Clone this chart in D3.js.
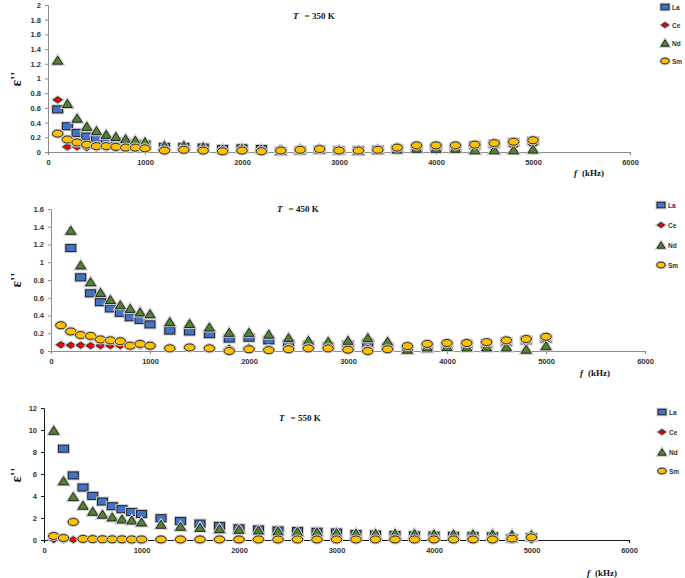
<!DOCTYPE html>
<html>
<head>
<meta charset="utf-8">
<script src="https://cdn.jsdelivr.net/npm/d3@7"></script>
<style>
html,body{margin:0;padding:0;background:#fff;}
svg{display:block;}
</style>
</head>
<body>
<svg id="chart" width="685" height="578"></svg>
<script>
// ---------- DATA ----------
const freq = [100,200,300,400,500,600,700,800,900,1000,
  1200,1400,1600,1800,2000,2200,2400,2600,2800,3000,
  3200,3400,3600,3800,4000,4200,4400,4600,4800,5000];
const seriesNames = ["La","Ce","Nd","Sm"];
const xTicks = [0,1000,2000,3000,4000,5000,6000];

// T = 350 K
const La350 = [0.58,0.35,0.26,0.21,0.18,0.16,0.14,0.12,0.11,0.10, 0.07,0.07,0.06,0.04,0.05,0.04,0.01,0.02,0.03,0.02, 0.02,0.03,0.04,0.06,0.06,0.06,0.09,0.11,0.13,0.15];
const Ce350 = [0.71,0.07,0.07,0.06,0.06,0.06,0.05,0.05,0.05,0.05, 0.04,0.05,0.04,0.03,0.04,0.03,0.05,0.05,0.05,0.04, 0.03,0.05,0.07,0.06,0.06,0.06,0.06,0.07,0.08,0.10];
const Nd350 = [1.25,0.66,0.46,0.35,0.29,0.24,0.21,0.18,0.16,0.14, 0.09,0.09,0.07,0.04,0.05,0.04,0.02,0.04,0.04,0.03, 0.02,0.03,0.04,0.05,0.05,0.05,0.03,0.03,0.03,0.04];
const Sm350 = [0.25,0.17,0.13,0.10,0.08,0.08,0.07,0.06,0.06,0.05, 0.02,0.03,0.02,0.01,0.02,0.01,0.02,0.03,0.04,0.02, 0.02,0.03,0.06,0.09,0.09,0.09,0.10,0.12,0.14,0.16];
const yTicks350 = [0,0.2,0.4,0.6,0.8,1,1.2,1.4,1.6,1.8,2];

// T = 450 K
const La450 = [null,1.16,0.83,0.65,0.55,0.48,0.43,0.38,0.35,0.30, 0.23,0.22,0.19,0.14,0.15,0.12,0.08,0.065,0.05,0.07, 0.09,0.045,0.015,0.03,0.05,0.07,0.08,0.10,0.12,0.14];
const Ce450 = [0.07,0.065,0.065,0.06,0.06,0.06,0.06,0.05,0.06,0.05, 0.04,0.04,0.04,0.03,0.04,0.03,0.03,0.03,0.03,0.03, 0.03,0.03,0.04,0.05,0.05,0.06,0.06,0.08,0.10,0.12];
const Nd450 = [null,1.36,0.97,0.78,0.66,0.58,0.52,0.48,0.44,0.42, 0.33,0.31,0.27,0.21,0.21,0.19,0.15,0.12,0.11,0.12, 0.15,0.11,0.02,0.045,0.05,0.045,0.045,0.045,0.02,0.06];
const Sm450 = [0.29,0.22,0.18,0.17,0.13,0.12,0.11,0.06,0.08,0.06, 0.03,0.04,0.03,0.0,0.02,0.01,0.02,0.03,0.03,0.015, 0.0,0.02,0.055,0.08,0.09,0.09,0.10,0.12,0.135,0.16];
const yTicks450 = [0,0.2,0.4,0.6,0.8,1,1.2,1.4,1.6];

// T = 550 K
const La550 = [null,8.30,5.87,4.77,4.01,3.50,3.07,2.80,2.55,2.37, 1.98,1.73,1.49,1.28,1.06,0.96,0.87,0.81,0.75,0.68, 0.55,0.50,0.45,0.42,0.40,0.38,0.36,0.33,0.15,0.25];
const Ce550 = [0.05,0.03,0.03,0.02,0.02,0.02,0.02,0.02,0.02,0.02, 0.02,0.02,0.02,0.02,0.02,0.02,0.02,0.02,0.02,0.02, 0.02,0.02,0.02,0.02,0.02,0.02,0.02,0.02,0.02,0.02];
const Nd550 = [9.97,5.38,3.95,3.16,2.61,2.34,2.10,1.91,1.82,1.64, 1.43,1.25,1.15,1.03,0.97,0.91,0.82,0.76,0.73,0.67, 0.62,0.60,0.60,0.58,0.55,0.55,0.55,0.55,0.50,0.48];
const Sm550 = [0.36,0.18,1.64,0.10,0.08,0.07,0.06,0.06,0.05,0.05, 0.05,0.05,0.05,0.05,0.05,0.05,0.05,0.05,0.05,0.05, 0.05,0.05,0.05,0.05,0.05,0.05,0.05,0.05,0.12,0.24];
const yTicks550 = [0,2,4,6,8,10,12];

const titles = ["350 K","450 K","550 K"];

// ---------- STYLE / LAYOUT ----------
const colors = {La:"#4472C4", Ce:"#FF0000", Nd:"#548235", Sm:"#FFC000"};
const panels = [
  {x0:48, x1:630, y0:152, y1:5, yMax:2, yTicks:yTicks350, data:{La:La350,Ce:Ce350,Nd:Nd350,Sm:Sm350},
   title:titles[0], tx:293, ty:19, fx:574, fy:176, legX:665, legY:[7,25,43,61], ylY:79, axisColor:"#8c8c8c"},
  {x0:51, x1:645, y0:351, y1:209, yMax:1.6, yTicks:yTicks450, data:{La:La450,Ce:Ce450,Nd:Nd450,Sm:Sm450},
   title:titles[1], tx:277, ty:212, fx:580, fy:376, legX:661, legY:[205,225,245,265], ylY:280, axisColor:"#8c8c8c"},
  {x0:44, x1:629, y0:540, y1:408, yMax:12, yTicks:yTicks550, data:{La:La550,Ce:Ce550,Nd:Nd550,Sm:Sm550},
   title:titles[2], tx:279, ty:421, fx:587, fy:576, legX:662, legY:[412,432,452,471], ylY:475, axisColor:"#1a1a1a"}
];

const svg = d3.select("#chart");

function marker(g, name, cx, cy, s) {
  s = s || 1;
  let el;
  if (name === "La") {
    el = g.append("rect").attr("x", cx-5*s).attr("y", cy-3.5*s).attr("width",10*s).attr("height",7*s);
  } else if (name === "Ce") {
    el = g.append("path").attr("d", `M${cx-4.5*s},${cy} L${cx},${cy-3*s} L${cx+4.5*s},${cy} L${cx},${cy+3*s} Z`);
  } else if (name === "Nd") {
    el = g.append("path").attr("d", `M${cx-5*s},${cy+4*s} L${cx},${cy-4*s} L${cx+5*s},${cy+4*s} Z`);
  } else {
    el = g.append("ellipse").attr("cx",cx).attr("cy",cy).attr("rx",5.2*s).attr("ry",3.5*s);
  }
  return el;
}

function drawMarker(g, name, cx, cy, s) {
  marker(g, name, cx, cy, s).attr("fill","none").attr("stroke","#c8c8c8").attr("stroke-width",3);
  marker(g, name, cx, cy, s).attr("fill",colors[name]).attr("stroke","#1a1a1a").attr("stroke-width",0.9);
}

panels.forEach(p => {
  const x = d3.scaleLinear().domain([0,6000]).range([p.x0,p.x1]);
  const y = d3.scaleLinear().domain([0,p.yMax]).range([p.y0,p.y1]);
  const g = svg.append("g");

  // y axis
  const ya = g.append("g").attr("transform",`translate(${p.x0},0)`)
    .call(d3.axisLeft(y).tickValues(p.yTicks).tickSize(3).tickPadding(4).tickFormat(d3.format("~g")));
  ya.select(".domain").attr("stroke",p.axisColor);
  ya.selectAll(".tick line").attr("stroke",p.axisColor);
  ya.selectAll("text").attr("font-family","Liberation Sans, Arial, sans-serif").attr("font-size",7.5)
    .attr("font-weight","bold").attr("fill","#333");

  // x axis
  const xa = g.append("g").attr("transform",`translate(0,${p.y0})`)
    .call(d3.axisBottom(x).tickValues(xTicks).tickSize(3).tickPadding(5).tickFormat(d3.format("d")));
  xa.select(".domain").attr("stroke",p.axisColor).attr("stroke-width",1.2);
  xa.selectAll(".tick line").attr("stroke",p.axisColor);
  xa.selectAll("text").attr("font-family","Liberation Sans, Arial, sans-serif").attr("font-size",7.5)
    .attr("font-weight","bold").attr("fill","#333");

  // markers
  const mg = g.append("g");
  seriesNames.forEach(name => {
    p.data[name].forEach((v,i) => {
      if (v === null || v === undefined) return;
      drawMarker(mg, name, x(freq[i]), y(v), 1);
    });
  });

  // title
  const t = g.append("text").attr("x",p.tx).attr("y",p.ty)
    .attr("font-family","Liberation Serif, Times New Roman, serif").attr("font-size",9).attr("font-weight","bold").attr("fill","#111");
  t.append("tspan").attr("font-style","italic").text("T");
  t.append("tspan").attr("dx",6).text("= " + p.title);

  // x label
  const fl = g.append("text").attr("x",p.fx).attr("y",p.fy)
    .attr("font-family","Liberation Serif, Times New Roman, serif").attr("font-size",9).attr("font-weight","bold").attr("fill","#111");
  fl.append("tspan").attr("font-style","italic").text("f");
  fl.append("tspan").attr("dx",5).text("(kHz)");

  // y label
  g.append("text").attr("transform",`translate(21,${p.ylY}) rotate(-90)`)
    .attr("text-anchor","middle")
    .attr("font-family","Liberation Serif, Times New Roman, serif").attr("font-size",15).attr("font-weight","bold").attr("fill","#111")
    .text("ε''");

  // legend
  seriesNames.forEach((name,k) => {
    drawMarker(g, name, p.legX, p.legY[k], 0.8);
    g.append("text").attr("x",p.legX+7).attr("y",p.legY[k]+2.5)
      .attr("font-family","Liberation Sans, Arial, sans-serif").attr("font-size",6.5).attr("font-weight","bold").attr("fill","#333")
      .text(name);
  });
});
</script>
</body>
</html>
